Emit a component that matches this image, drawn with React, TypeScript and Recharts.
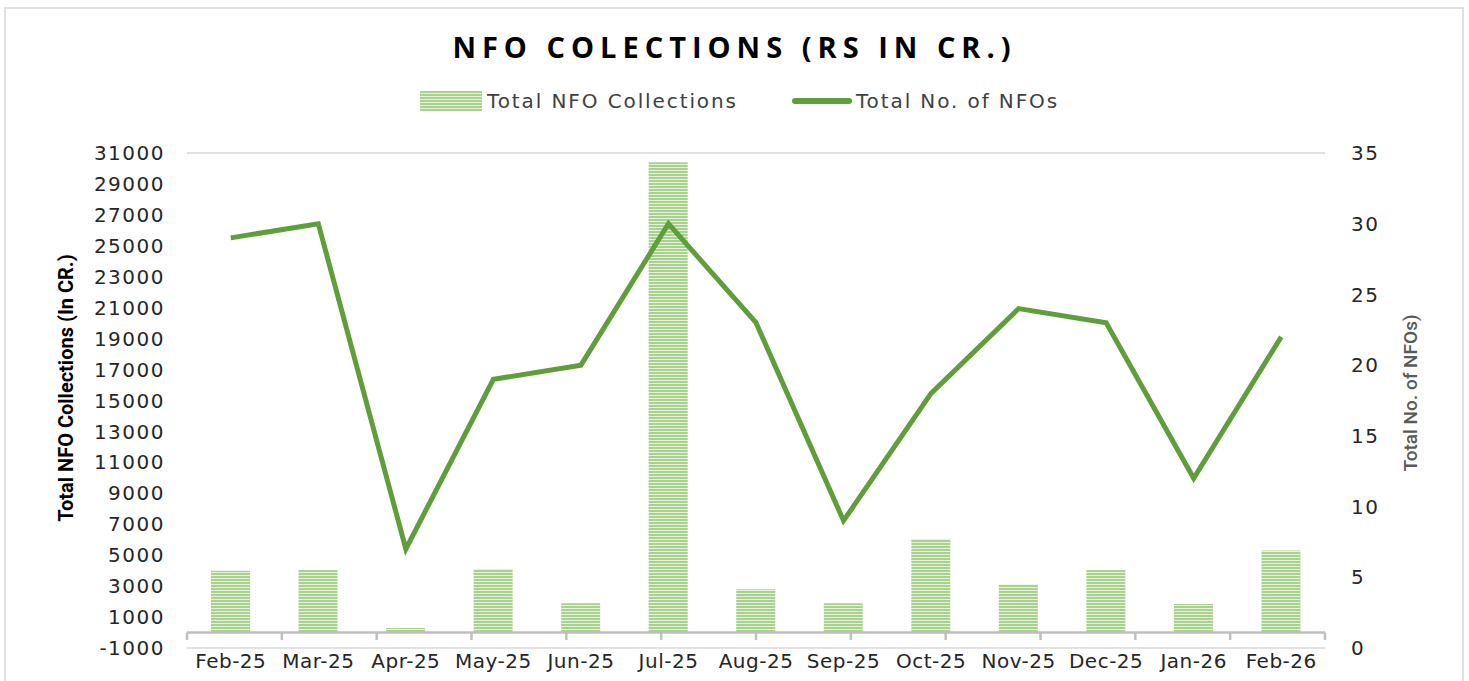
import {
  ComposedChart,
  Bar,
  Line,
  XAxis,
  YAxis,
  CartesianGrid,
  ReferenceLine,
} from "recharts";

const months = [
  "Feb-25", "Mar-25", "Apr-25", "May-25", "Jun-25", "Jul-25", "Aug-25",
  "Sep-25", "Oct-25", "Nov-25", "Dec-25", "Jan-26", "Feb-26",
];
const collections = [
  4000, 4050, 300, 4100, 1900, 30400, 2800, 1900, 6050, 3100, 4050, 1850, 5300,
];
const nfoCount = [29, 30, 7, 19, 20, 30, 23, 9, 18, 24, 23, 12, 22];
const leftTicks = [
  -1000, 1000, 3000, 5000, 7000, 9000, 11000, 13000, 15000, 17000, 19000,
  21000, 23000, 25000, 27000, 29000, 31000,
];
const rightTicks = [0, 5, 10, 15, 20, 25, 30, 35];

const data = months.map((m, i) => ({
  month: m,
  collections: collections[i],
  count: nfoCount[i],
}));
const edges = months.map((_, i) => i).concat(months.length);

const lineColor = "#5f9e3b";
const tickStyle = {
  fill: "#262626",
  fontSize: 20,
  fontFamily: "DejaVu Sans",
  letterSpacing: 1.5,
};
const xTickStyle = { ...tickStyle, letterSpacing: 0.5 };

// rotated axis title, centred at (cx, cy)
const axisTitle =
  (text: string, cx: number, cy: number, style: Record<string, unknown>) =>
  () =>
    (
      <text
        x={cx}
        y={cy}
        transform={`rotate(-90 ${cx} ${cy})`}
        textAnchor="middle"
        dominantBaseline="central"
        style={style}
      >
        {text}
      </text>
    );

export default function App() {
  return (
    <div
      style={{
        position: "absolute",
        left: 0,
        top: 0,
        width: 1469,
        height: 681,
        background: "#fff",
        overflow: "hidden",
      }}
    >
      <div
        style={{
          position: "absolute",
          left: 4,
          top: 7,
          width: 1456,
          height: 700,
          border: "2px solid #e0e0e0",
        }}
      />
      <div
        style={{
          position: "absolute",
          left: 0,
          width: 1469,
          top: 27,
          textAlign: "center",
          fontFamily: "Open Sans",
          fontWeight: 700,
          fontSize: 29,
          letterSpacing: 6,
          color: "#000",
        }}
      >
        NFO COLECTIONS (RS IN CR.)
      </div>
      <div
        style={{
          position: "absolute",
          top: 89,
          left: 420,
          display: "flex",
          alignItems: "center",
          fontFamily: "DejaVu Sans",
          fontSize: 20,
          color: "#404040",
          letterSpacing: 1.9,
        }}
      >
        <svg width={62} height={20} style={{ marginRight: 5 }}>
          <rect width={62} height={20} fill="url(#stripes)" />
        </svg>
        <span>Total NFO Collections</span>
        <svg width={60} height={10} style={{ marginLeft: 54, marginRight: 4 }}>
          <line x1={3} y1={5} x2={57} y2={5} stroke={lineColor} strokeWidth={6} strokeLinecap="round" />
        </svg>
        <span>Total No. of NFOs</span>
      </div>
      <ComposedChart
        width={1469}
        height={681}
        data={data}
        margin={{ top: 153, right: 64, bottom: 3, left: 67 }}
      >
        <defs>
          <pattern id="stripes" width={8} height={3} patternUnits="userSpaceOnUse">
            <rect width={8} height={3} fill="#a9d18e" />
            <rect y={2} width={8} height={1} fill="#e6f2de" />
          </pattern>
        </defs>
        <CartesianGrid vertical={false} stroke="#d9d9d9" strokeWidth={1.5} />
        <XAxis
          dataKey="month"
          axisLine={false}
          tickLine={false}
          tick={xTickStyle}
          height={30}
          tickMargin={0}
          interval={0}
        />
        <XAxis
          xAxisId="edge"
          type="number"
          domain={[0, months.length]}
          ticks={edges}
          hide
        />
        <YAxis
          yAxisId="left"
          domain={[-1000, 31000]}
          ticks={leftTicks}
          interval={0}
          axisLine={false}
          tickLine={false}
          tick={tickStyle}
          width={120}
          tickMargin={16}
          label={{
            content: axisTitle("Total NFO Collections (In CR.)", 66, 388, {
              fontFamily: "Roboto",
              fontWeight: 700,
              fontSize: 20,
              fill: "#000",
            }),
          }}
        />
        <YAxis
          yAxisId="right"
          orientation="right"
          domain={[0, 35]}
          ticks={rightTicks}
          interval={0}
          axisLine={false}
          tickLine={false}
          tick={tickStyle}
          width={80}
          tickMargin={20}
          label={{
            content: axisTitle("Total No. of NFOs)", 1410, 393, {
              fontFamily: "Roboto",
              fontWeight: 500,
              fontSize: 19,
              fill: "#595959",
            }),
          }}
        />
        <Bar
          yAxisId="left"
          dataKey="collections"
          fill="url(#stripes)"
          barSize={39}
          isAnimationActive={false}
        />
        <ReferenceLine yAxisId="left" y={0} stroke="#bfbfbf" strokeWidth={2.5} />
        {edges.map((e) => (
          <ReferenceLine
            key={e}
            xAxisId="edge"
            yAxisId="left"
            segment={[
              { x: e, y: 0 },
              { x: e, y: -480 },
            ]}
            stroke="#bfbfbf"
            strokeWidth={2.5}
          />
        ))}
        <Line
          yAxisId="right"
          dataKey="count"
          type="linear"
          stroke={lineColor}
          strokeWidth={5}
          dot={false}
          isAnimationActive={false}
        />
      </ComposedChart>
    </div>
  );
}
